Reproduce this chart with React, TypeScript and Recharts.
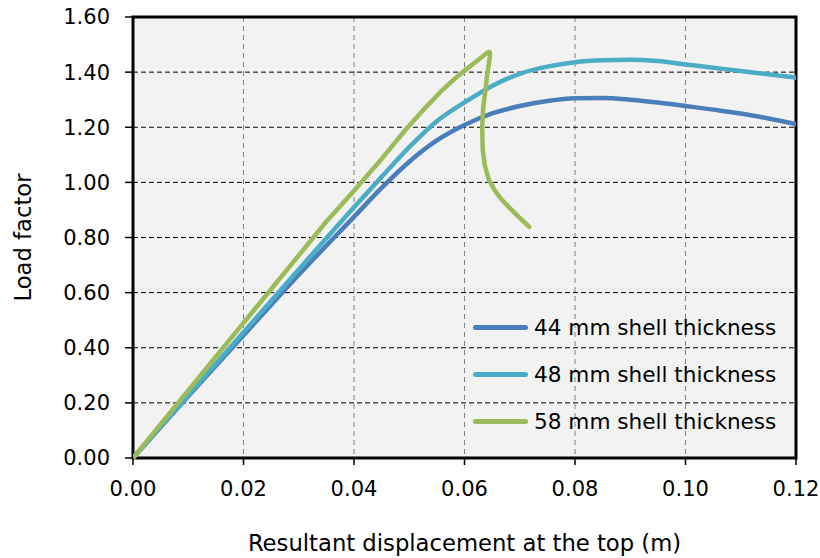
import React from "react";
import {
  CartesianGrid,
  Legend,
  Line,
  LineChart,
  ReferenceArea,
  XAxis,
  YAxis,
} from "recharts";

const xTicks = [0, 0.02, 0.04, 0.06, 0.08, 0.1, 0.12];
const yTicks = [0, 0.2, 0.4, 0.6, 0.8, 1.0, 1.2, 1.4, 1.6];

const seriesNames = [
  "44 mm shell thickness",
  "48 mm shell thickness",
  "58 mm shell thickness",
];
const seriesColors = ["#4a7ebb", "#4bacc6", "#9bbb59"];

const disp44 = [0, 0.01, 0.02, 0.03, 0.04, 0.045, 0.05, 0.055, 0.06, 0.065, 0.07, 0.075, 0.08, 0.085, 0.09, 0.095, 0.1, 0.105, 0.11, 0.115, 0.12];
const load44 = [0, 0.224, 0.445, 0.665, 0.875, 0.98, 1.075, 1.152, 1.208, 1.25, 1.277, 1.295, 1.305, 1.306, 1.3, 1.29, 1.277, 1.264, 1.25, 1.232, 1.212];

const disp48 = [0, 0.01, 0.02, 0.03, 0.04, 0.045, 0.05, 0.055, 0.06, 0.065, 0.07, 0.075, 0.08, 0.085, 0.09, 0.095, 0.1, 0.105, 0.11, 0.115, 0.12];
const load48 = [0, 0.228, 0.456, 0.684, 0.91, 1.02, 1.128, 1.222, 1.29, 1.35, 1.394, 1.42, 1.436, 1.443, 1.445, 1.44, 1.428, 1.416, 1.404, 1.392, 1.38];

const disp58 = [0, 0.01, 0.02, 0.03, 0.035, 0.04, 0.045, 0.0493, 0.0525, 0.0557, 0.058, 0.06, 0.062, 0.0632, 0.0639, 0.0643, 0.0646, 0.0646, 0.0644, 0.0641, 0.0638, 0.0634, 0.0632, 0.0633, 0.0637, 0.0644, 0.0655, 0.0668, 0.0683, 0.0698, 0.0717];
const load58 = [0, 0.245, 0.49, 0.735, 0.858, 0.97, 1.085, 1.19, 1.262, 1.329, 1.372, 1.405, 1.437, 1.456, 1.467, 1.473, 1.472, 1.458, 1.43, 1.39, 1.335, 1.275, 1.2, 1.117, 1.06, 1.009, 0.97, 0.936, 0.905, 0.875, 0.839];

const toPoints = (xs: number[], ys: number[]) =>
  xs.map((x, i) => ({ x, y: ys[i] }));

const series = [
  toPoints(disp44, load44),
  toPoints(disp48, load48),
  toPoints(disp58, load58),
];
// the 58 mm curve snaps back in x, so it can't use a monotone-x curve
const curveTypes = ["monotone", "monotone", "linear"] as const;

const font = "DejaVu Sans";

const renderLegend = () => (
  <div style={{ fontFamily: font, fontSize: 21.6, color: "#000" }}>
    {seriesNames.map((name, i) => (
      <div
        key={name}
        style={{ display: "flex", alignItems: "center", height: 47 }}
      >
        <span
          style={{
            display: "inline-block",
            width: 55,
            height: 5,
            borderRadius: 3,
            background: seriesColors[i],
            marginRight: 6,
          }}
        />
        <span>{name}</span>
      </div>
    ))}
  </div>
);

export default function App() {
  return (
    <div style={{ position: "absolute", left: 0, top: 0, background: "#fff" }}>
      <LineChart
        width={820}
        height={558}
        margin={{ top: 17, right: 24, left: 0, bottom: 0 }}
        style={{ fontFamily: font }}
      >
        <CartesianGrid
          horizontal={false}
          stroke="#808080"
          strokeDasharray="5 4"
          fill="#f2f2f2"
        />
        <CartesianGrid vertical={false} stroke="#000" strokeDasharray="5 3" />
        <XAxis
          type="number"
          dataKey="x"
          domain={[0, 0.12]}
          ticks={xTicks}
          allowDataOverflow
          height={100}
          tickFormatter={(v: number) => v.toFixed(2)}
          tick={{ fill: "#000", fontSize: 21 }}
          tickSize={7}
          tickMargin={16}
          tickLine={{ stroke: "#000", strokeWidth: 1.5 }}
          axisLine={false}
          label={{
            value: "Resultant displacement at the top (m)",
            position: "insideBottom",
            offset: 7,
            fill: "#000",
            fontSize: 22.7,
          }}
        />
        <YAxis
          type="number"
          dataKey="y"
          domain={[0, 1.6]}
          ticks={yTicks}
          width={133}
          tickFormatter={(v: number) => v.toFixed(2)}
          tick={{ fill: "#000", fontSize: 21 }}
          tickSize={8}
          tickMargin={15}
          tickLine={{ stroke: "#000", strokeWidth: 1.5 }}
          axisLine={false}
          label={{
            value: "Load factor",
            angle: -90,
            position: "insideLeft",
            offset: 23,
            fill: "#000",
            fontSize: 22.7,
            style: { textAnchor: "middle" },
          }}
        />
        {series.map((pts, i) => (
          <Line
            key={seriesNames[i]}
            data={pts}
            dataKey="y"
            name={seriesNames[i]}
            type={curveTypes[i]}
            stroke={seriesColors[i]}
            strokeWidth={4.5}
            strokeLinecap="round"
            strokeLinejoin="round"
            dot={false}
            activeDot={false}
            isAnimationActive={false}
          />
        ))}
        <ReferenceArea
          x1={0}
          x2={0.12}
          y1={0}
          y2={1.6}
          fill="none"
          stroke="#000"
          strokeWidth={3}
          ifOverflow="visible"
        />
        <Legend
          content={renderLegend}
          wrapperStyle={{
            left: 473,
            top: 304,
            width: 330,
            height: 0,
            overflow: "visible",
          }}
        />
      </LineChart>
    </div>
  );
}
